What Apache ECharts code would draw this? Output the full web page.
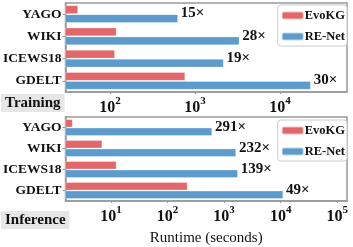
<!DOCTYPE html>
<html><head><meta charset="utf-8">
<script src="https://cdn.jsdelivr.net/npm/echarts@6/dist/echarts.min.js"></script>
<style>html,body{margin:0;padding:0;background:#fff}#c{width:353px;height:247px}</style>
</head><body><div id="c"></div>
<script>
const categories = ['YAGO', 'WIKI', 'ICEWS18', 'GDELT'];
const trainEvoKG = [42, 119, 114, 765];
const trainRENet = [630, 3330, 2170, 23000];
const trainSpeedup = ['15×', '28×', '19×', '30×'];
const infEvoKG = [2.1, 7.0, 12.5, 225];
const infRENet = [611, 1620, 1740, 11000];
const infSpeedup = ['291×', '232×', '139×', '49×'];
const seriesNames = ['EvoKG', 'RE-Net'];
const panelLabels = ['Training', 'Inference'];
const xAxisTitle = 'Runtime (seconds)';

const FONT = 'Liberation Serif';
const RED = '#e2676b', BLUE = '#5c9bcb';
const chart = echarts.init(document.getElementById('c'), null, {renderer: 'canvas'});

function xAxisCfg(gi, min, max, withName) {
  return {
    type: 'log', logBase: 10, gridIndex: gi, min: min, max: max,
    axisLine: {show: true, lineStyle: {color: '#999', width: 1.5}},
    axisTick: {show: true, length: 2, lineStyle: {color: '#999'}},
    splitLine: {show: false},
    axisLabel: {
      showMinLabel: false, showMaxLabel: false, margin: 4,
      formatter: v => '{b|10}{s|' + Math.round(Math.log10(v)) + '}',
      rich: {
        b: {fontFamily: FONT, fontWeight: 'bold', fontSize: 16, color: '#111', lineHeight: 20, verticalAlign: 'bottom'},
        s: {fontFamily: FONT, fontWeight: 'bold', fontSize: 11, color: '#111', verticalAlign: 'top', lineHeight: 11}
      }
    },
    name: withName ? xAxisTitle : '',
    nameLocation: 'middle', nameGap: 30,
    nameTextStyle: {fontFamily: FONT, fontSize: 15, color: '#111'}
  };
}
function yAxisCfg(gi) {
  return {
    type: 'category', gridIndex: gi, data: categories, inverse: true,
    axisLine: {show: true, lineStyle: {color: '#999', width: 1.5}},
    axisTick: {show: true, alignWithLabel: true, length: 3, lineStyle: {color: '#999'}},
    axisLabel: {fontFamily: FONT, fontWeight: 'bold', fontSize: 13.5, color: '#111', margin: 4}
  };
}
function bar(name, data, gi, color, labels) {
  const s = {
    type: 'bar', name: name, xAxisIndex: gi, yAxisIndex: gi, data: data,
    barCategoryGap: '22%', barGap: '6%',
    itemStyle: {color: color, borderColor: 'rgba(255,255,255,0.6)', borderWidth: 0.5},
    emphasis: {disabled: true}, animation: false
  };
  if (labels) {
    s.label = {
      show: true, position: 'right', distance: 3, offset: [0, -5],
      formatter: p => labels[p.dataIndex],
      fontFamily: FONT, fontWeight: 'bold', fontSize: 15, color: '#111'
    };
  }
  return s;
}
function legendCfg(top) {
  return {
    data: seriesNames, orient: 'vertical', right: 6, top: top,
    itemWidth: 22, itemHeight: 8, itemGap: 8,
    borderColor: '#ccc', borderWidth: 1, borderRadius: 3, padding: [4, 2, 3, 3],
    backgroundColor: '#fff',
    textStyle: {fontFamily: FONT, fontWeight: 'bold', fontSize: 12.5, color: '#111', padding: [0, 0, 0, -4]},
    selectedMode: false
  };
}
function panelText(t, top) {
  return {
    type: 'text', left: 1, top: top,
    style: {
      text: t, fontFamily: FONT, fontWeight: 'bold', fontSize: 15, fill: '#111',
      backgroundColor: '#e6e6e6', padding: [2, 4, 1, 4]
    }
  };
}

chart.setOption({
  animation: false,
  grid: [
    {left: 62, right: 6, top: 3, height: 89, show: true, borderColor: '#999', borderWidth: 1.5},
    {left: 62, right: 6, top: 117, height: 90, show: true, borderColor: '#999', borderWidth: 1.5}
  ],
  xAxis: [xAxisCfg(0, 30, 61600, false), xAxisCfg(1, 1.58, 148000, true)],
  yAxis: [yAxisCfg(0), yAxisCfg(1)],
  legend: [legendCfg(5), legendCfg(120)],
  series: [
    bar(seriesNames[0], trainEvoKG, 0, RED, null),
    bar(seriesNames[1], trainRENet, 0, BLUE, trainSpeedup),
    bar(seriesNames[0], infEvoKG, 1, RED, null),
    bar(seriesNames[1], infRENet, 1, BLUE, infSpeedup)
  ],
  graphic: [panelText(panelLabels[0], 94), panelText(panelLabels[1], 211)]
});
</script></body></html>
